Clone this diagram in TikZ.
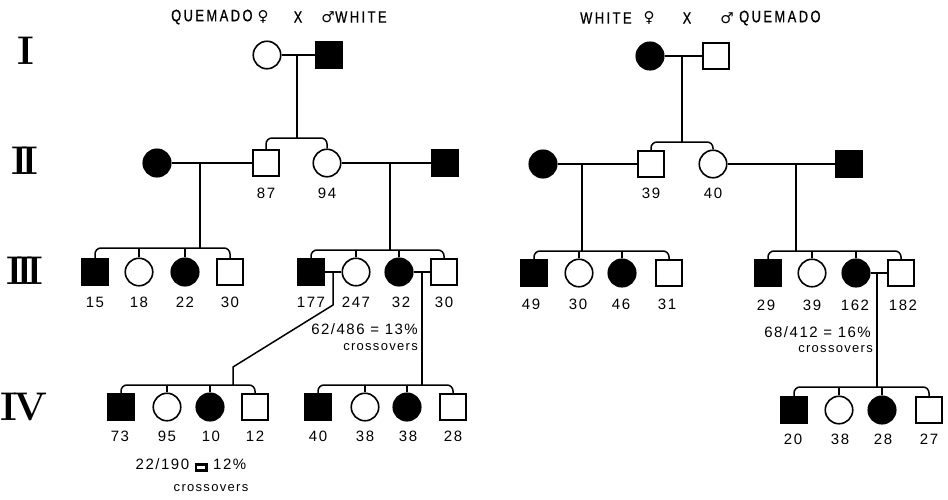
\documentclass[tikz,border=0pt]{standalone}
\usepackage{fontspec}
\newfontfamily\labfont[LetterSpace=10]{Liberation Sans}
\newfontfamily\titfont[FakeStretch=0.78,LetterSpace=15,FakeBold=0.8]{Liberation Sans}
\newfontfamily\symfont{DejaVu Sans}
\newcommand{\eqbox}{{\fboxsep=0pt\fboxrule=2.4pt\fbox{\rule{0pt}{3.5pt}\rule{8pt}{0pt}}}}
\begin{document}
\begin{tikzpicture}[x=1pt,y=-1pt,
  fc/.style={circle,draw,fill=black,line width=1.6pt,minimum size=27.5pt,inner sep=0pt},
  oc/.style={circle,draw,fill=white,line width=1.6pt,minimum size=27.5pt,inner sep=0pt},
  fs/.style={rectangle,draw,fill=black,line width=1.6pt,minimum size=26pt,inner sep=0pt},
  os/.style={rectangle,draw,fill=white,line width=1.6pt,minimum size=26pt,inner sep=0pt},
  con/.style={line width=1.5pt},
  bar/.style={line width=1.5pt,rounded corners=6pt},
  lab/.style={font=\labfont\fontsize{15}{15}\selectfont,inner sep=0pt},
  cro/.style={font=\labfont\fontsize{13}{13}\selectfont,inner sep=0pt},
  tit/.style={font=\titfont\fontsize{16.5}{16.5}\selectfont,inner sep=0pt},
  sym/.style={font=\symfont\fontsize{15}{15}\selectfont,inner sep=0pt},
  gen/.style={font=\bfseries\fontsize{40}{40}\selectfont,inner sep=0pt}]
\useasboundingbox (0,0) rectangle (948,499);

% generation numerals
\node[gen] (gI) at (26,51) {I};
\node[gen] (gII) at (25,161) {I\kern-7pt I};
\node[gen] (gIII) at (25,271) {I\kern-7pt I\kern-7pt I};
\node[gen] (gIV) at (24,407) {I\kern-4pt V};

% titles
\node[tit,anchor=west] (tLa) at (171,17) {QUEMADO};
\node[sym] (tLb) at (263,17) {♀};
\node[tit] (tLc) at (298,17) {X};
\node[sym] (tLd) at (328,17) {♂};
\node[tit,anchor=west] (tLe) at (335,17) {WHITE};
\node[tit,anchor=west] (tRa) at (580,18) {WHITE};
\node[sym] (tRb) at (649,18) {♀};
\node[tit] (tRc) at (687,18) {X};
\node[sym] (tRd) at (727,18) {♂};
\node[tit,anchor=west] (tRe) at (739,18) {QUEMADO};

% ===== LEFT PEDIGREE =====
\node[oc] (L1f) at (267,55) {};
\node[fs] (L1m) at (329,55) {};
\coordinate (L1d) at (297,55);
\coordinate (L1b) at (297,138);

\node[fc] (L2a) at (157,163) {};
\node[os] (L2b) at (266,163) {};
\node[oc] (L2c) at (327,163) {};
\node[fs] (L2d) at (445,163) {};
\node[lab] (l87) at (266,193) {87};
\node[lab] (l94) at (327,193) {94};
\coordinate (L2d1) at (200,163);
\coordinate (L2b1) at (200,248);
\coordinate (L2d2) at (390,163);
\coordinate (L2b2) at (390,250);

\node[fs] (L3a) at (95,272) {};
\node[oc] (L3b) at (139,272) {};
\node[fc] (L3c) at (185,272) {};
\node[os] (L3d) at (230,272) {};
\node[fs] (L3e) at (311,272) {};
\node[oc] (L3f) at (356,272) {};
\node[fc] (L3g) at (399,272) {};
\node[os] (L3h) at (444,272) {};
\node[lab] (l15) at (95,302) {15};
\node[lab] (l18) at (139,302) {18};
\node[lab] (l22) at (185,302) {22};
\node[lab] (l30a) at (230,302) {30};
\node[lab] (l177) at (311,302) {177};
\node[lab] (l247) at (356,302) {247};
\node[lab] (l32) at (401,302) {32};
\node[lab] (l30b) at (444,302) {30};
\coordinate (L3d1) at (333,272);
\coordinate (L3k1) at (333,305);
\coordinate (L3k2) at (233,367);
\coordinate (L3b1) at (233,385);
\coordinate (L3d2) at (422,272);
\coordinate (L3b2) at (422,385);

\node[fs] (L4a) at (121,407) {};
\node[oc] (L4b) at (167,407) {};
\node[fc] (L4c) at (210,407) {};
\node[os] (L4d) at (255,407) {};
\node[fs] (L4e) at (318,407) {};
\node[oc] (L4f) at (365,407) {};
\node[fc] (L4g) at (407,407) {};
\node[os] (L4h) at (453,407) {};
\node[lab] (l73) at (120,436) {73};
\node[lab] (l95) at (167,436) {95};
\node[lab] (l10) at (211,436) {10};
\node[lab] (l12) at (255,436) {12};
\node[lab] (l40) at (318,436) {40};
\node[lab] (l38a) at (365,436) {38};
\node[lab] (l38b) at (408,436) {38};
\node[lab] (l28) at (453,436) {28};

\node[lab,anchor=east] (rL1) at (418,329) {62/486 = 13\%};
\node[cro,anchor=east] (cL1) at (418,347) {crossovers};
\node[lab] (rL2) at (191,465) {22/190 \eqbox\ 12\%};
\node[cro] (cL2) at (211,488) {crossovers};

% connectors left
\draw[con] (L1f.east) -- (L1m.west);
\draw[con] (L1d) -- (L1b);
\draw[bar] (L2b.north) |- (L1b) -| (L2c.north);

\draw[con] (L2a.east) -- (L2b.west);
\draw[con] (L2d1) -- (L2b1);
\draw[bar] (L3a.north) |- (L2b1) -| (L3d.north);
\draw[con] (L3b.north) -- (L3b.north |- L2b1);
\draw[con] (L3c.north) -- (L3c.north |- L2b1);

\draw[con] (L2c.east) -- (L2d.west);
\draw[con] (L2d2) -- (L2b2);
\draw[bar] (L3e.north) |- (L2b2) -| (L3h.north);
\draw[con] (L3f.north) -- (L3f.north |- L2b2);
\draw[con] (L3g.north) -- (L3g.north |- L2b2);

\draw[con] (L3e.east) -- (L3f.west);
\draw[con] (L3d1) -- (L3k1) -- (L3k2) -- (L3b1);
\draw[bar] (L4a.north) |- (L3b1) -| (L4d.north);
\draw[con] (L4b.north) -- (L4b.north |- L3b1);
\draw[con] (L4c.north) -- (L4c.north |- L3b1);

\draw[con] (L3g.east) -- (L3h.west);
\draw[con] (L3d2) -- (L3b2);
\draw[bar] (L4e.north) |- (L3b2) -| (L4h.north);
\draw[con] (L4f.north) -- (L4f.north |- L3b2);
\draw[con] (L4g.north) -- (L4g.north |- L3b2);

% ===== RIGHT PEDIGREE =====
\node[fc] (R1f) at (650,56) {};
\node[os] (R1m) at (716,56) {};
\coordinate (R1d) at (682,56);
\coordinate (R1b) at (682,142);

\node[fc] (R2a) at (543,164) {};
\node[os] (R2b) at (651,164) {};
\node[oc] (R2c) at (713,164) {};
\node[fs] (R2d) at (849,164) {};
\node[lab] (l39a) at (651,193) {39};
\node[lab] (l40b) at (713,193) {40};
\coordinate (R2d1) at (582,164);
\coordinate (R2b1) at (582,251);
\coordinate (R2d2) at (796,164);
\coordinate (R2b2) at (796,251);

\node[fs] (R3a) at (534,273) {};
\node[oc] (R3b) at (579,273) {};
\node[fc] (R3c) at (622,273) {};
\node[os] (R3d) at (669,273) {};
\node[fs] (R3e) at (768,273) {};
\node[oc] (R3f) at (812,273) {};
\node[fc] (R3g) at (856,273) {};
\node[os] (R3h) at (901,273) {};
\node[lab] (l49) at (531,304) {49};
\node[lab] (l30c) at (578,304) {30};
\node[lab] (l46) at (621,304) {46};
\node[lab] (l31) at (667,304) {31};
\node[lab] (l29) at (766,305) {29};
\node[lab] (l39b) at (812,305) {39};
\node[lab] (l162) at (855,305) {162};
\node[lab] (l182) at (903,305) {182};
\coordinate (R3d2) at (877,273);
\coordinate (R3b2) at (877,387);

\node[fs] (R4a) at (794,410) {};
\node[oc] (R4b) at (839,410) {};
\node[fc] (R4c) at (882,410) {};
\node[os] (R4d) at (929,410) {};
\node[lab] (l20) at (793,439) {20};
\node[lab] (l38c) at (840,439) {38};
\node[lab] (l28b) at (883,439) {28};
\node[lab] (l27) at (929,439) {27};

\node[lab,anchor=east] (rR1) at (871,332) {68/412 = 16\%};
\node[cro,anchor=east] (cR1) at (873,349) {crossovers};

% connectors right
\draw[con] (R1f.east) -- (R1m.west);
\draw[con] (R1d) -- (R1b);
\draw[bar] (R2b.north) |- (R1b) -| (R2c.north);

\draw[con] (R2a.east) -- (R2b.west);
\draw[con] (R2d1) -- (R2b1);
\draw[bar] (R3a.north) |- (R2b1) -| (R3d.north);
\draw[con] (R3b.north) -- (R3b.north |- R2b1);
\draw[con] (R3c.north) -- (R3c.north |- R2b1);

\draw[con] (R2c.east) -- (R2d.west);
\draw[con] (R2d2) -- (R2b2);
\draw[bar] (R3e.north) |- (R2b2) -| (R3h.north);
\draw[con] (R3f.north) -- (R3f.north |- R2b2);
\draw[con] (R3g.north) -- (R3g.north |- R2b2);

\draw[con] (R3g.east) -- (R3h.west);
\draw[con] (R3d2) -- (R3b2);
\draw[bar] (R4a.north) |- (R3b2) -| (R4d.north);
\draw[con] (R4b.north) -- (R4b.north |- R3b2);
\draw[con] (R4c.north) -- (R4c.north |- R3b2);
\end{tikzpicture}
\end{document}
